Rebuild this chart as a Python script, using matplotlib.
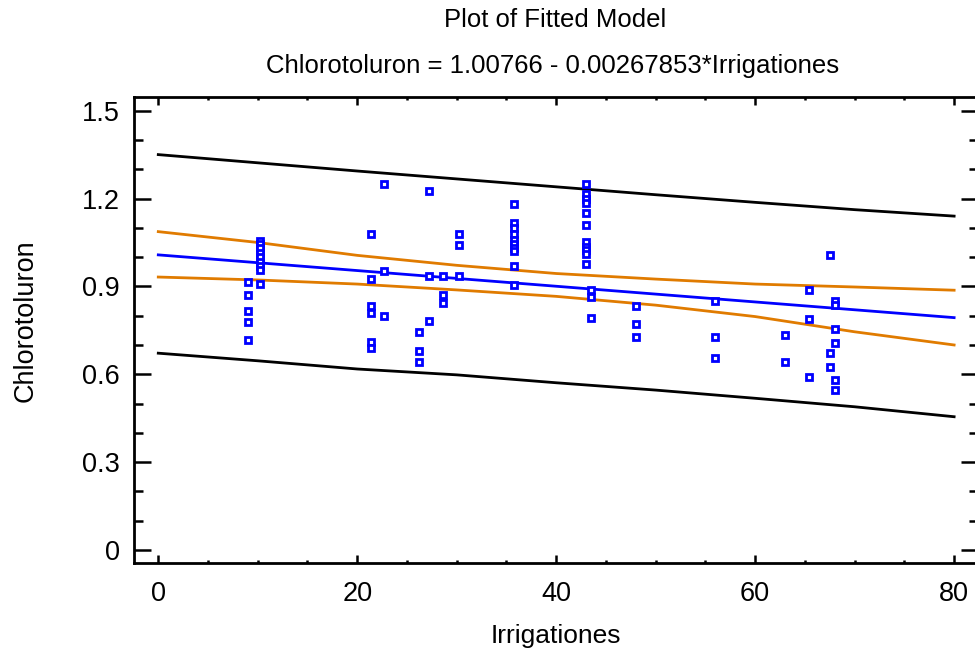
import numpy as np
import matplotlib
matplotlib.use("Agg")
import matplotlib.pyplot as plt
from matplotlib.ticker import MultipleLocator

plt.rcParams['font.family'] = ['Liberation Sans', 'DejaVu Sans']

# fitted model coefficients
intercept = 1.00766
slope = -0.00267853

# observed data (Irrigationes, Chlorotoluron)
irrig = [9.0, 9.0, 9.0, 9.0, 9.0,
         10.2, 10.2, 10.2, 10.2, 10.2, 10.2, 10.2, 10.2, 10.2,
         21.4, 21.4, 21.4, 21.4, 21.4, 21.4,
         22.7, 22.7, 22.7,
         26.2, 26.2, 26.2,
         27.2, 27.2, 27.2,
         28.6, 28.6, 28.6,
         30.2, 30.2, 30.2,
         35.8, 35.8, 35.8, 35.8, 35.8, 35.8, 35.8, 35.8, 35.8, 35.8,
         43.0, 43.0, 43.0, 43.0, 43.0, 43.0, 43.0, 43.0, 43.0, 43.0, 43.0,
         43.5, 43.5, 43.5,
         48.0, 48.0, 48.0,
         56.0, 56.0, 56.0,
         63.0, 63.0,
         65.4, 65.4, 65.4,
         67.5, 67.5, 67.5,
         68.0, 68.0, 68.0, 68.0, 68.0, 68.0]
chloro = [0.915, 0.871, 0.817, 0.780, 0.718,
          1.055, 1.045, 1.030, 1.015, 1.000, 0.985, 0.970, 0.955, 0.907,
          1.080, 0.926, 0.834, 0.808, 0.711, 0.689,
          1.251, 0.954, 0.798,
          0.743, 0.680, 0.643,
          1.225, 0.934, 0.781,
          0.934, 0.871, 0.843,
          1.080, 1.043, 0.934,
          1.180, 1.115, 1.100, 1.080, 1.060, 1.045, 1.030, 1.020, 0.971, 0.906,
          1.251, 1.215, 1.200, 1.185, 1.151, 1.109, 1.050, 1.035, 1.025, 1.011, 0.975,
          0.888, 0.865, 0.791,
          0.833, 0.771, 0.727,
          0.851, 0.728, 0.654,
          0.734, 0.643,
          0.889, 0.789, 0.589,
          1.008, 0.672, 0.626,
          0.851, 0.837, 0.754, 0.706, 0.580, 0.545]

# confidence and prediction limits along the x range
band_x = [0, 10, 20, 30, 40, 50, 60, 70, 80]
conf_upper = [1.087, 1.050, 1.006, 0.972, 0.944, 0.925, 0.908, 0.898, 0.887]
conf_lower = [0.932, 0.922, 0.908, 0.888, 0.866, 0.836, 0.797, 0.745, 0.700]
pred_upper = [1.350, 1.322, 1.294, 1.267, 1.240, 1.213, 1.187, 1.162, 1.140]
pred_lower = [0.672, 0.646, 0.618, 0.598, 0.571, 0.546, 0.518, 0.489, 0.455]

x_ticks = [0, 20, 40, 60, 80]
y_ticks = [0, 0.3, 0.6, 0.9, 1.2, 1.5]
y_tick_labels = ['0', '0.3', '0.6', '0.9', '1.2', '1.5']

fig = plt.figure(figsize=(9.75, 6.48), dpi=100)
ax = fig.add_axes([134 / 975, 85 / 648, (978 - 134) / 975, (563 - 97) / 648])

bx = np.array(band_x, dtype=float)
fit = intercept + slope * bx

orange = '#E07B00'
lw = 2.0
ax.plot(bx, pred_upper, color='black', lw=lw)
ax.plot(bx, pred_lower, color='black', lw=lw)
ax.plot(bx, conf_upper, color=orange, lw=lw)
ax.plot(bx, conf_lower, color=orange, lw=lw)
ax.plot(bx, fit, color='#0000FF', lw=lw)
ax.plot(irrig, chloro, 's', ms=5.0, mfc='white', mec='#0000FF', mew=2.0,
        linestyle='none')

ax.set_xlim(-2.44, 82.4)
ax.set_ylim(-0.0444, 1.5467)
ax.set_xticks(x_ticks)
ax.set_yticks(y_ticks)
ax.set_yticklabels(y_tick_labels)
ax.xaxis.set_minor_locator(MultipleLocator(5))
ax.yaxis.set_minor_locator(MultipleLocator(0.1))

for s in ax.spines.values():
    s.set_linewidth(2.0)
ax.tick_params(which='both', direction='in', top=True, right=True, width=1.8,
               labelsize=19.5)
ax.tick_params(axis='x', which='major', length=6, pad=13)
ax.tick_params(axis='x', which='minor', length=2.5)
ax.tick_params(axis='y', which='major', length=12, pad=10)
ax.tick_params(axis='y', which='minor', length=6.5)

ax.set_xlabel('Irrigationes', fontsize=19, labelpad=12)
ax.set_ylabel('Chlorotoluron', fontsize=19.5)
ax.yaxis.set_label_coords(-0.113, 0.52)

fig.text(555 / 975, 1 - 20 / 648, 'Plot of Fitted Model', ha='center',
         va='center', fontsize=18.5)
fig.text(553 / 975, 1 - 66 / 648,
         'Chlorotoluron = 1.00766 - 0.00267853*Irrigationes', ha='center',
         va='center', fontsize=18.5)

fig.savefig('out.png', dpi=100)
